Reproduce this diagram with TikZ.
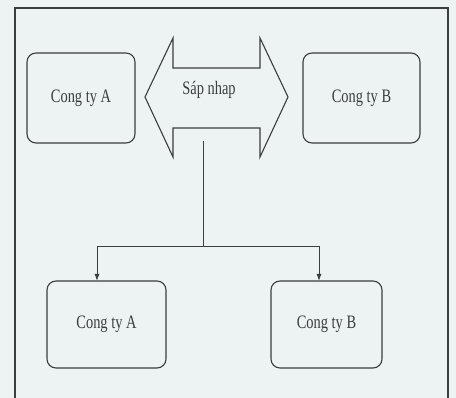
\documentclass[tikz,border=0pt]{standalone}
\usepackage{fontspec}
\setmainfont{Liberation Serif}
\usetikzlibrary{arrows.meta}
\definecolor{paper}{RGB}{237,242,243}
\definecolor{ink}{RGB}{58,62,64}
\newcommand{\lbl}[1]{\scalebox{0.76}[1]{\fontsize{19}{21}\selectfont #1}}
\begin{document}
\begin{tikzpicture}[x=1pt,y=-1pt,
  line width=1.1pt,
  company/.style={draw=ink, rounded corners=9pt, inner sep=0pt, text=ink},
  link/.style={draw=ink, line width=1pt},
  tip/.style={-{Latex[length=7pt,width=5pt]}}]
  % page and outer frame
  \fill[paper] (0,0) rectangle (456,398);
  \useasboundingbox (0,0) rectangle (456,398);
  \draw[ink, line width=1.3pt] (15,402) -- (15,8) -- (448,8) -- (448,402);

  % the two companies before the merger
  \node[company, minimum width=108pt, minimum height=90pt] (ta) at (81,98) {\lbl{Cong ty A}};
  \node[company, minimum width=117pt, minimum height=90pt] (tb) at (361.5,98) {\lbl{Cong ty B}};

  % double-headed merger arrow
  \coordinate (ml) at (145,97);
  \coordinate (mr) at (288,97);
  \draw[ink] (ml) -- (173,38) -- (173,68) -- (260,68) -- (260,38) -- (mr)
    -- (260,157) -- (260,128) -- (173,128) -- (173,157) -- cycle;
  \node[text=ink] (merge) at (209,90) {\lbl{Sáp nhap}};

  % the two companies after the merger
  \node[company, minimum width=119pt, minimum height=87pt] (ba) at (106.5,324.5) {\lbl{Cong ty A}};
  \node[company, minimum width=111pt, minimum height=87pt] (bb) at (326.5,324.5) {\lbl{Cong ty B}};

  % connector from the arrow down to both companies
  \coordinate (stem) at (203,141);
  \coordinate (fork) at (203,247);
  \coordinate (ea) at (97,281);
  \coordinate (eb) at (319,281);
  \draw[link] (stem) -- (fork);
  \draw[link, tip] (fork) -| (ea);
  \draw[link, tip] (fork) -| (eb);
\end{tikzpicture}
\end{document}
